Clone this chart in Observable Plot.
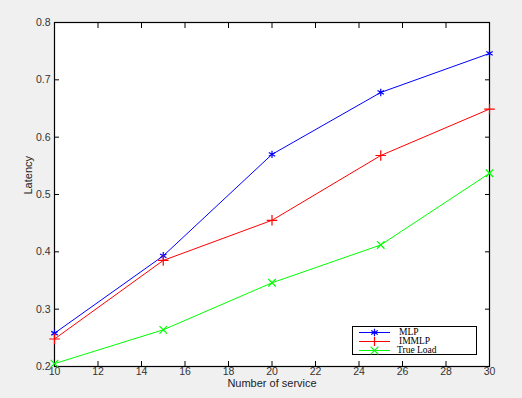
<!DOCTYPE html>
<html><head><meta charset="utf-8">
<script src="https://cdn.jsdelivr.net/npm/d3@7"></script>
<script src="https://cdn.jsdelivr.net/npm/@observablehq/plot@0.6"></script>
<style>
html,body{margin:0;padding:0;background:#f0f0f0;}
#wrap{position:relative;width:522px;height:398px;}
#legend{position:absolute;left:352px;top:326px;width:125px;height:29px;border:1px solid #000;background:#fff;box-sizing:border-box;font-family:"Liberation Serif","DejaVu Serif",serif;font-size:9.5px;line-height:9px;}
#legend .row{position:relative;height:9px;}
#legend svg{position:absolute;left:4px;top:0;}
#legend span{position:absolute;left:44px;top:0px;}
</style></head>
<body><div id="wrap"></div>
<script>
const services = [10, 15, 20, 25, 30];
const mlp = [0.258, 0.393, 0.570, 0.678, 0.746];
const immlp = [0.248, 0.385, 0.455, 0.568, 0.649];
const trueLoad = [0.205, 0.264, 0.346, 0.412, 0.537];
const seriesNames = ["MLP", "IMMLP", "True Load"];
const seriesColors = ["#0000ff", "#ff0000", "#00ff00"];
const seriesSymbols = ["asterisk", "plus", "times"];
const xTicks = [10, 12, 14, 16, 18, 20, 22, 24, 26, 28, 30];
const yTicks = [0.2, 0.3, 0.4, 0.5, 0.6, 0.7, 0.8];

const allSeries = [mlp, immlp, trueLoad];
const data = allSeries.flatMap((vals, i) => vals.map((v, j) => ({x: services[j], y: v, s: seriesNames[i]})));

const font = "'Liberation Sans', Arial, sans-serif";
const chart = Plot.plot({
  width: 522, height: 398,
  marginLeft: 54, marginRight: 33, marginTop: 22, marginBottom: 32,
  style: {background: "#f0f0f0", fontFamily: font, fontSize: "10.5px", color: "#333"},
  x: {domain: [10, 30]},
  y: {domain: [0.2, 0.8]},
  color: {domain: seriesNames, range: seriesColors},
  symbol: {domain: seriesNames, range: seriesSymbols},
  marks: [
    Plot.frame({fill: "white", stroke: "none"}),
    Plot.axisX({ticks: xTicks, tickSize: -5, tickPadding: 6, tickFormat: d => d, label: null, stroke: "#000", fill: "#333"}),
    Plot.axisX({anchor: "top", ticks: xTicks, tickSize: -5, tickFormat: () => "", label: null, stroke: "#000"}),
    Plot.axisY({ticks: yTicks, tickSize: -5, tickPadding: 9, tickFormat: d => d.toFixed(1), label: null, stroke: "#000", fill: "#333"}),
    Plot.axisY({anchor: "right", ticks: yTicks, tickSize: -5, tickFormat: () => "", label: null, stroke: "#000"}),
    Plot.frame({stroke: "#000", strokeWidth: 1.2}),
    Plot.line(data, {x: "x", y: "y", z: "s", stroke: "s", strokeWidth: 1}),
    Plot.dot(data, {x: "x", y: "y", symbol: "s", stroke: "s", r: 3.5, strokeWidth: 1.2}),
    Plot.text(["Number of service"], {frameAnchor: "bottom", lineAnchor: "middle", dy: 17, fontSize: 11, fill: "#222"}),
    Plot.text(["Latency"], {frameAnchor: "left", dx: -26, rotate: -90, fontSize: 11, fill: "#222"})
  ]
});
const wrap = document.getElementById("wrap");
wrap.appendChild(chart);

const leg = document.createElement("div");
leg.id = "legend";
leg.style.paddingTop = "1px";
seriesNames.forEach((name, i) => {
  const row = document.createElement("div");
  row.className = "row";
  const s = d3.create("svg").attr("width", 36).attr("height", 9);
  s.append("line").attr("x1", 2).attr("x2", 33).attr("y1", 4.5).attr("y2", 4.5).attr("stroke", seriesColors[i]).attr("stroke-width", 1);
  const symMap = {asterisk: d3.symbolAsterisk, plus: d3.symbolPlus, times: d3.symbolTimes};
  s.append("path").attr("d", d3.symbol(symMap[seriesSymbols[i]], 40)()).attr("transform", "translate(17.5,4.5)").attr("stroke", seriesColors[i]).attr("fill", "none").attr("stroke-width", 1.2);
  row.appendChild(s.node());
  const sp = document.createElement("span");
  sp.textContent = name;
  if (i < 2) sp.style.left = "46px";
  row.appendChild(sp);
  leg.appendChild(row);
});
wrap.appendChild(leg);
</script>
</body></html>
